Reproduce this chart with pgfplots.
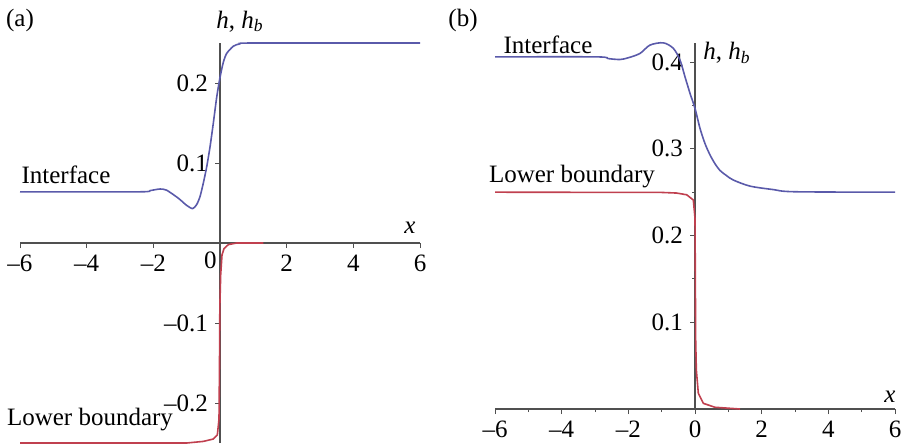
\documentclass[border=0pt]{standalone}
\usepackage{fontspec}
\setmainfont{Liberation Serif}
\usepackage{pgfplots}
\pgfplotsset{compat=1.18}
\definecolor{ifblue}{HTML}{5A5AAA}
\definecolor{lbred}{HTML}{C0404F}
\definecolor{axgray}{HTML}{505050}

\pgfplotsset{
  panel/.style={
    scale only axis,
    axis lines=middle,
    axis line style={-, axgray, line width=0.6pt},
    every tick/.style={axgray, line width=0.5pt},
    tick align=outside,
    major tick length=2.5pt,
    minor tick length=1.5pt,
    minor x tick num=1,
    minor y tick num=1,
    xmin=-6, xmax=6,
    width=200pt,
    clip=false,
    hide obscured x ticks=false,
    hide obscured y ticks=false,
    tick label style={font=\fontsize{12.5}{14}\selectfont},
  },
}

\begin{document}
\begin{tikzpicture}
\path[use as bounding box] (0,0) rectangle (450.5pt,223pt);

\node[font=\fontsize{12.5}{14}\selectfont] at (10pt,213pt) {(a)};
\node[font=\fontsize{12.5}{14}\selectfont] at (231.5pt,213pt) {(b)};

% ---- panel (a)
\begin{axis}[panel,
  at={(10pt,1.5pt)}, anchor=south west,
  height=200pt,
  ymin=-0.25, ymax=0.25,
  xtick={-6,-4,-2,2,4,6},
  xticklabels={\textendash6,\textendash4,\textendash2,2,4,6},
  ytick={-0.2,-0.1,0.1,0.2},
  yticklabels={\textendash0.2,\textendash0.1,0.1,0.2},
]
\addplot[ifblue, line width=0.8pt, smooth, tension=0.4] coordinates {
  (-6,0.064) (-2.4,0.064) (-2.1,0.0655) (-1.8,0.0675) (-1.6,0.066)
  (-1.25,0.056) (-1.0,0.047) (-0.82,0.043) (-0.7,0.048) (-0.6,0.058)
  (-0.5,0.075) (-0.4,0.095) (-0.3,0.12) (-0.2,0.15) (-0.1,0.182)
  (0,0.207) (0.1,0.226) (0.2,0.237) (0.4,0.246) (0.6,0.249) (1.0,0.25) (6,0.25)
};
\addplot[lbred, line width=0.8pt] coordinates {
  (-6,-0.25) (-1,-0.25) (-0.5,-0.248) (-0.2,-0.245) (-0.08,-0.24)
  (-0.03,-0.22) (-0.015,-0.15) (-0.005,-0.08) (0.02,-0.04) (0.06,-0.015)
  (0.12,-0.007) (0.25,-0.002) (0.5,0) (1.3,0)
};
\node[anchor=north east, inner sep=0pt, font=\fontsize{12.5}{14}\selectfont] at (axis cs:-0.09,-0.011) {0};
\node[font=\fontsize{12.5}{14}\selectfont] at (axis cs:0.6,0.277) {\textit{h}, \textit{h}\textsubscript{\textit{b}}};
\node[font=\fontsize{12.5}{14}\selectfont] at (axis cs:5.7,0.019) {\textit{x}};
\node[font=\fontsize{12.5}{14}\selectfont] at (axis cs:-4.62,0.085) {Interface};
\node[font=\fontsize{12.5}{14}\selectfont] at (axis cs:-3.9,-0.221) {Lower boundary};
\end{axis}

% ---- panel (b)
\begin{axis}[panel,
  at={(247.5pt,18.5pt)}, anchor=south west,
  height=183pt,
  ymin=0, ymax=0.422,
  xtick={-6,-4,-2,0,2,4,6},
  xticklabels={\textendash6,\textendash4,\textendash2,0,2,4,6},
  ytick={0.1,0.2,0.3,0.4},
  yticklabels={0.1,0.2,0.3,0.4},
]
\addplot[ifblue, line width=0.8pt, smooth, tension=0.5] coordinates {
  (-6,0.406) (-2.95,0.406) (-2.6,0.404) (-2.25,0.403) (-2.0,0.405)
  (-1.65,0.41) (-1.35,0.4196) (-0.95,0.4222) (-0.65,0.4158) (-0.45,0.4023)
  (-0.3,0.383) (-0.15,0.364) (0,0.3466) (0.15,0.3236) (0.3,0.306)
  (0.45,0.293) (0.6,0.2828) (0.75,0.275) (0.95,0.269) (1.15,0.264)
  (1.65,0.257) (2.35,0.253) (3.0,0.2505) (6,0.25)
};
\addplot[lbred, line width=0.8pt] coordinates {
  (-6,0.25) (-1,0.2497) (-0.55,0.249) (-0.25,0.247) (-0.05,0.241)
  (0,0.22) (0.01,0.15) (0.02,0.08) (0.04,0.045) (0.1,0.018)
  (0.25,0.0065) (0.6,0.002) (1.35,0)
};
\node[font=\fontsize{12.5}{14}\selectfont] at (axis cs:0.96,0.411) {\textit{h}, \textit{h}\textsubscript{\textit{b}}};
\node[font=\fontsize{12.5}{14}\selectfont] at (axis cs:5.85,0.014) {\textit{x}};
\node[font=\fontsize{12.5}{14}\selectfont] at (axis cs:-4.41,0.4196) {Interface};
\node[font=\fontsize{12.5}{14}\selectfont] at (axis cs:-3.69,0.2686) {Lower boundary};
\end{axis}
\end{tikzpicture}
\end{document}
